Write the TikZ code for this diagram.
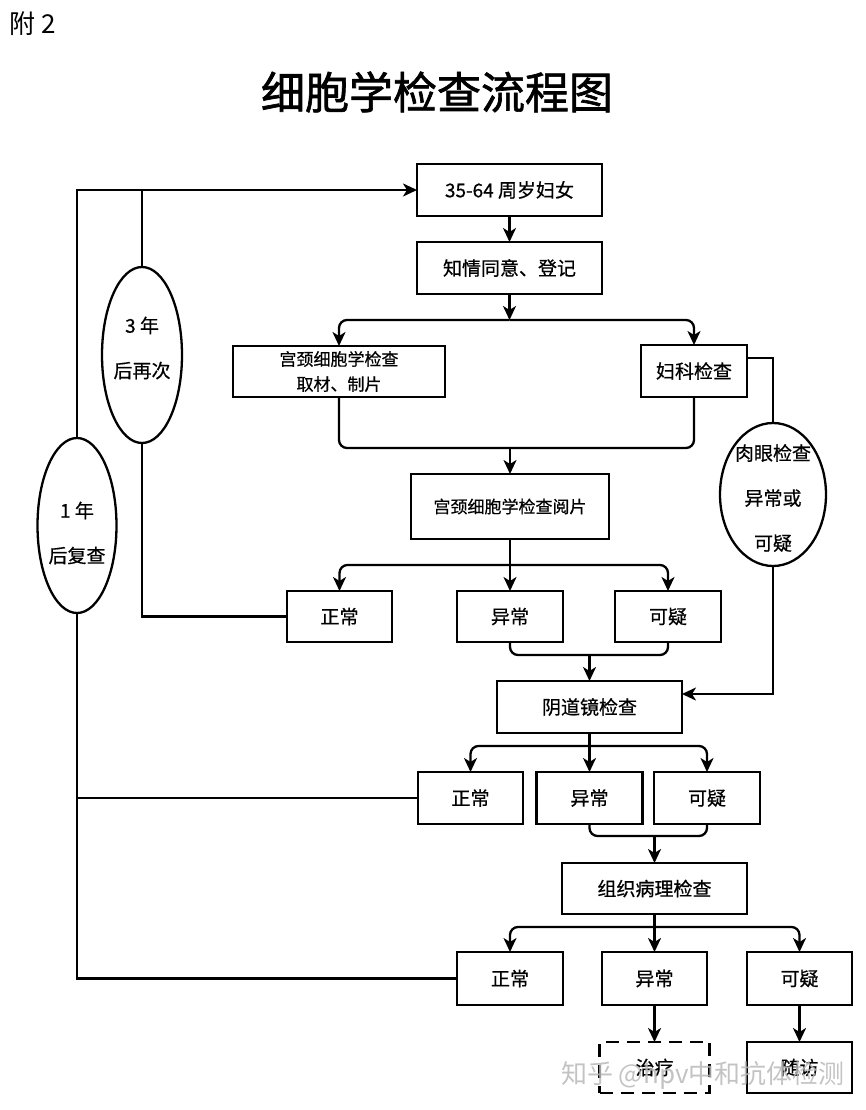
\documentclass[tikz,border=0pt]{standalone}
\usepackage{fontspec}
\setmainfont{Noto Sans CJK SC}
\newfontfamily\boxfont[FakeBold=0.6]{Noto Sans CJK SC}
\newfontfamily\titlefont[FakeBold=1.5]{Noto Sans CJK SC}
\usetikzlibrary{shapes.geometric,arrows.meta}
\begin{document}
\begin{tikzpicture}[x=1pt,y=-1pt,
  procbox/.style={draw, line width=2.3pt, rectangle, inner sep=0pt, outer sep=0pt,
     font=\boxfont\fontsize{19pt}{23pt}\selectfont, align=center},
  smallbox/.style={procbox, font=\boxfont\fontsize{17pt}{25pt}\selectfont},
  ovalnode/.style={draw, line width=2.3pt, ellipse, inner sep=0pt, outer sep=0pt},
  ovaltext/.style={align=center, font=\boxfont\fontsize{19pt}{45pt}\selectfont},
  conn/.style={line width=2.3pt, rounded corners=8pt},
  plain/.style={line width=2.3pt},
  arr/.style={conn, -{Stealth[length=14pt,width=13pt,inset=4pt]}},
  sarr/.style={plain, -{Stealth[length=14pt,width=13pt,inset=4pt]}},
]
\useasboundingbox (0,0) rectangle (865,1110);
\node[anchor=west, font=\fontsize{26pt}{30pt}\selectfont] (fu) at (6,24) {附 2};
\node[font=\titlefont\fontsize{44pt}{50pt}\selectfont] (title) at (437,92) {细胞学检查流程图};

% boxes
\node[procbox, minimum width=185pt, minimum height=52pt] (n1) at (509.5,190) {35-64 周岁妇女};
\node[procbox, minimum width=185pt, minimum height=52pt] (n2) at (509.5,268) {知情同意、登记};
\node[smallbox, minimum width=212pt, minimum height=51pt] (g1) at (339,371.5) {宫颈细胞学检查\\取材、制片};
\node[procbox, minimum width=106pt, minimum height=52pt] (f1) at (694,371) {妇科检查};
\node[smallbox, minimum width=198pt, minimum height=65pt] (r1) at (510,506.5) {宫颈细胞学检查阅片};
\node[procbox, minimum width=105pt, minimum height=51pt] (cz) at (339.5,616.5) {正常};
\node[procbox, minimum width=106pt, minimum height=51pt] (cy) at (510,616.5) {异常};
\node[procbox, minimum width=106pt, minimum height=51pt] (ck) at (668,616.5) {可疑};
\node[procbox, minimum width=185pt, minimum height=52pt] (y0) at (589.5,707) {阴道镜检查};
\node[procbox, minimum width=105pt, minimum height=52pt] (yz) at (470.5,798) {正常};
\node[procbox, minimum width=106pt, minimum height=52pt] (yy) at (589.5,798) {异常};
\node[procbox, minimum width=106pt, minimum height=52pt] (yk) at (707,798) {可疑};
\node[procbox, minimum width=185pt, minimum height=51pt] (z0) at (654.5,888.5) {组织病理检查};
\node[procbox, minimum width=106pt, minimum height=53pt] (zz) at (510,978.5) {正常};
\node[procbox, minimum width=105pt, minimum height=53pt] (zy) at (654.5,978.5) {异常};
\node[procbox, minimum width=105pt, minimum height=53pt] (zk) at (799.5,978.5) {可疑};
\node[procbox, minimum width=110pt, minimum height=51pt, dash pattern=on 13pt off 8pt] (zl) at (654.5,1067.5) {治疗};
\node[procbox, minimum width=105pt, minimum height=51pt] (sf) at (799.5,1067.5) {随访};

% ellipses
\node[ovalnode, minimum width=80pt, minimum height=176pt] (e3) at (142,355) {};
\node[ovaltext] (e3t) at (142,348) {3 年\\后再次};
\node[ovalnode, minimum width=79pt, minimum height=175pt] (e1) at (77,525.5) {};
\node[ovaltext] (e1t) at (77,533) {1 年\\后复查};
\node[ovalnode, minimum width=106pt, minimum height=143pt] (ey) at (773,494.5) {};
\node[ovaltext] (eyt) at (773,498) {肉眼检查\\异常或\\可疑};

% connectors
\coordinate (b1) at (509.5,320);
\draw[sarr] (n1.south) -- (n2.north);
\draw[sarr] (n2.south) -- (b1);
\draw[arr] (b1) -| (g1.north);
\draw[arr] (b1) -| (f1.north);
\coordinate (m1) at (510,448);
\draw[conn] (g1.south) |- (m1) -| (f1.south);
\draw[sarr] (m1) -- (r1.north);
\coordinate (b2) at (510,565);
\draw[sarr] (r1.south) -- (cy.north);
\draw[arr] (b2) -| (cz.north);
\draw[arr] (b2) -| (ck.north);
\coordinate (m2) at (589.5,655);
\draw[conn] (cy.south) |- (m2) -| (ck.south);
\draw[sarr] (m2) -- (y0.north);
\draw[plain] ([yshift=13pt]f1.east) -| (ey.north);
\draw[sarr] (ey.south) |- ([yshift=13pt]y0.east);
\coordinate (b3) at (589.5,746);
\draw[sarr] (y0.south) -- (yy.north);
\draw[arr] (b3) -| (yz.north);
\draw[arr] (b3) -| (yk.north);
\coordinate (m3) at (654.5,836);
\draw[conn] (yy.south) |- (m3) -| (yk.south);
\draw[sarr] (m3) -- (z0.north);
\coordinate (b4) at (654.5,927);
\draw[sarr] (z0.south) -- (zy.north);
\draw[arr] (b4) -| (zz.north);
\draw[arr] (b4) -| (zk.north);
\draw[sarr] (zy.south) -- (zl.north);
\draw[sarr] (zk.south) -- (sf.north);

% feedback loops
\draw[plain] (cz.west) -| (e3.south);
\draw[plain] (e3.north) -- (e3.north |- n1.west);
\draw[sarr] (e1.north) |- (n1.west);
\draw[plain] (zz.west) -| (e1.south);
\draw[plain] (yz.west) -- (yz.west -| e1.south);

% watermark
\node[text=gray!55, opacity=0.85, font=\fontsize{26pt}{30pt}\selectfont] (wm) at (703,1075) {知乎 @hpv中和抗体检测};
\end{tikzpicture}
\end{document}
